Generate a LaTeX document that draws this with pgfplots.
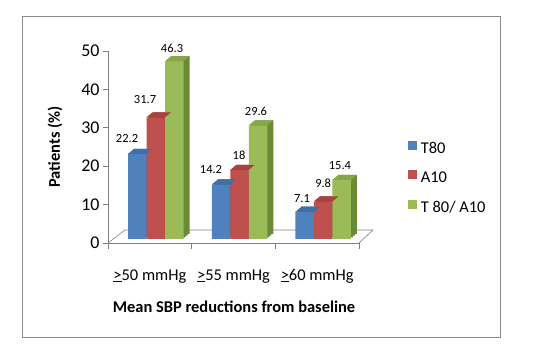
\documentclass[border=0pt]{standalone}
\usepackage{fontspec}
\setmainfont{Carlito}
\usepackage{pgfplots}
\usepackage{pgfplotstable}
\pgfplotsset{compat=1.18}

\definecolor{cb}{HTML}{4F81BD}
\definecolor{cr}{HTML}{C0504D}
\definecolor{cg}{HTML}{9BBB59}
\definecolor{cbt}{HTML}{416FA9}
\definecolor{crt}{HTML}{A8423F}
\definecolor{cgt}{HTML}{86A64A}
\definecolor{cbs}{HTML}{2F5586}
\definecolor{crs}{HTML}{843330}
\definecolor{cgs}{HTML}{6A8A36}

% top faces of the bars (relative to the bar top of each series)
\pgfdeclareplotmark{topb}{\pgfpathmoveto{\pgfqpoint{-21.75bp}{4bp}}\pgfpathlineto{\pgfqpoint{-3.25bp}{4bp}}\pgfpathlineto{\pgfqpoint{2.75bp}{9bp}}\pgfpathlineto{\pgfqpoint{-15.75bp}{9bp}}\pgfpathclose\pgfusepathqfill}
\pgfdeclareplotmark{topr}{\pgfpathmoveto{\pgfqpoint{-3.25bp}{4bp}}\pgfpathlineto{\pgfqpoint{15.25bp}{4bp}}\pgfpathlineto{\pgfqpoint{21.25bp}{9bp}}\pgfpathlineto{\pgfqpoint{2.75bp}{9bp}}\pgfpathclose\pgfusepathqfill}
\pgfdeclareplotmark{topg}{\pgfpathmoveto{\pgfqpoint{15.25bp}{4bp}}\pgfpathlineto{\pgfqpoint{33.75bp}{4bp}}\pgfpathlineto{\pgfqpoint{39.75bp}{9bp}}\pgfpathlineto{\pgfqpoint{21.25bp}{9bp}}\pgfpathclose\pgfusepathqfill}

% label offsets (bp) from the unshifted data point
\pgfplotstableread{
x b r g dxb dxr dxg dyb dyr dyg
0 22.2 31.7 46.3 -22.8 -4.8 22.2 19.5 21.3 16.9
1 14.2 18 29.6 -22.5 5.5 22.5 18.5 18.2 17.6
2 7.1 9.8 15.4 -15.2 6 22.8 17.4 21.7 18.2
}\data

\pgfplotsset{
  sq legend/.style={legend image code/.code={\fill[##1] (0bp,-4.5bp) rectangle (9bp,4.5bp); \path (0bp,0bp) -- (11bp,0bp);}},
  side/.style={ybar, bar width=18.5bp, draw=none, forget plot},
  front/.style={ybar, bar width=18.5bp, draw=none, yshift=4bp, sq legend},
  lab/.style={only marks, mark=none, forget plot,
    nodes near coords,
    every node near coord/.append style={anchor=center, font=\fontsize{12.5}{14}\selectfont, text=black, xshift=\dx bp, yshift=\dy bp}},
}

\begin{document}
\begin{tikzpicture}
\draw[color=black!45, line width=0.8bp] (22bp,17bp) rectangle (500bp,338bp);
\begin{axis}[
  at={(108bp,111bp)}, anchor=south west,
  scale only axis, width=251bp, height=192bp,
  xmin=-0.5, xmax=2.5, ymin=0, ymax=50,
  axis lines*=left,
  axis line style={color=black!50, line width=0.6bp},
  ytick={0,10,...,50},
  xtick={0,1,2},
  xticklabels={\underline{>}50 mmHg, \underline{>}55 mmHg, \underline{>}60 mmHg},
  minor xtick={-0.5,0.5,1.5,2.5},
  major x tick style={draw=none},
  minor tick length=6bp, major tick length=5bp,
  tick align=outside,
  tick style={color=black!50, line width=0.6bp},
  xticklabel style={font=\fontsize{16.5}{19}\selectfont, anchor=base, yshift=-32bp},
  yticklabel style={font=\fontsize{18}{21}\selectfont},
  /pgf/number format/assume math mode=true,
  xlabel={Mean SBP reductions from baseline},
  xlabel style={at={(axis description cs:0.502,-0.33)}, anchor=center, font=\bfseries\fontsize{16.5}{19}\selectfont},
  ylabel={Patients (\%)},
  ylabel style={at={(axis description cs:-0.211,0.5)}, anchor=center, font=\bfseries\fontsize{16.5}{19}\selectfont},
  clip=false,
  legend style={at={(axis description cs:1.194,0.535)}, anchor=north west, draw=none, fill=none,
    font=\fontsize{16.5}{19}\selectfont, inner sep=0pt, row sep=11.5bp,
    nodes={inner sep=2bp, text height=11bp, text depth=3bp}},
  legend cell align=left,
]
% floor
\draw[color=black!50, line width=0.6bp] (axis cs:-0.5,0) -- ([shift={(17bp,13bp)}]axis cs:-0.5,0) -- ([shift={(14bp,13bp)}]axis cs:2.5,0) -- (axis cs:2.5,0);

% T80
\addplot[side, fill=cbs, bar shift=-10.5bp, yshift=5.67bp] table[x=x,y=b]{\data};
\addplot[side, fill=cbs, bar shift=-8.5bp, yshift=7.33bp] table[x=x,y=b]{\data};
\addplot[side, fill=cbs, bar shift=-6.5bp, yshift=9bp] table[x=x,y=b]{\data};
\addplot[front, fill=cb, bar shift=-12.5bp] table[x=x,y=b]{\data};
\addlegendentry{T80}
\addplot[only marks, mark=topb, mark options={fill=cbt, draw=none}, forget plot] table[x=x,y=b]{\data};

% A10
\addplot[side, fill=crs, bar shift=8bp, yshift=5.67bp] table[x=x,y=r]{\data};
\addplot[side, fill=crs, bar shift=10bp, yshift=7.33bp] table[x=x,y=r]{\data};
\addplot[side, fill=crs, bar shift=12bp, yshift=9bp] table[x=x,y=r]{\data};
\addplot[front, fill=cr, bar shift=6bp] table[x=x,y=r]{\data};
\addlegendentry{A10}
\addplot[only marks, mark=topr, mark options={fill=crt, draw=none}, forget plot] table[x=x,y=r]{\data};

% T 80/ A10
\addplot[side, fill=cgs, bar shift=26.5bp, yshift=5.67bp] table[x=x,y=g]{\data};
\addplot[side, fill=cgs, bar shift=28.5bp, yshift=7.33bp] table[x=x,y=g]{\data};
\addplot[side, fill=cgs, bar shift=30.5bp, yshift=9bp] table[x=x,y=g]{\data};
\addplot[front, fill=cg, bar shift=24.5bp] table[x=x,y=g]{\data};
\addlegendentry{T 80/ A10}
\addplot[only marks, mark=topg, mark options={fill=cgt, draw=none}, forget plot] table[x=x,y=g]{\data};

% value labels
\addplot[lab, visualization depends on={\thisrow{dxb} \as \dx}, visualization depends on={\thisrow{dyb} \as \dy}] table[x=x,y=b]{\data};
\addplot[lab, visualization depends on={\thisrow{dxr} \as \dx}, visualization depends on={\thisrow{dyr} \as \dy}] table[x=x,y=r]{\data};
\addplot[lab, visualization depends on={\thisrow{dxg} \as \dx}, visualization depends on={\thisrow{dyg} \as \dy}] table[x=x,y=g]{\data};
\end{axis}
\pgfresetboundingbox
\path (0bp,0bp) rectangle (554bp,354bp);
\end{tikzpicture}
\end{document}
